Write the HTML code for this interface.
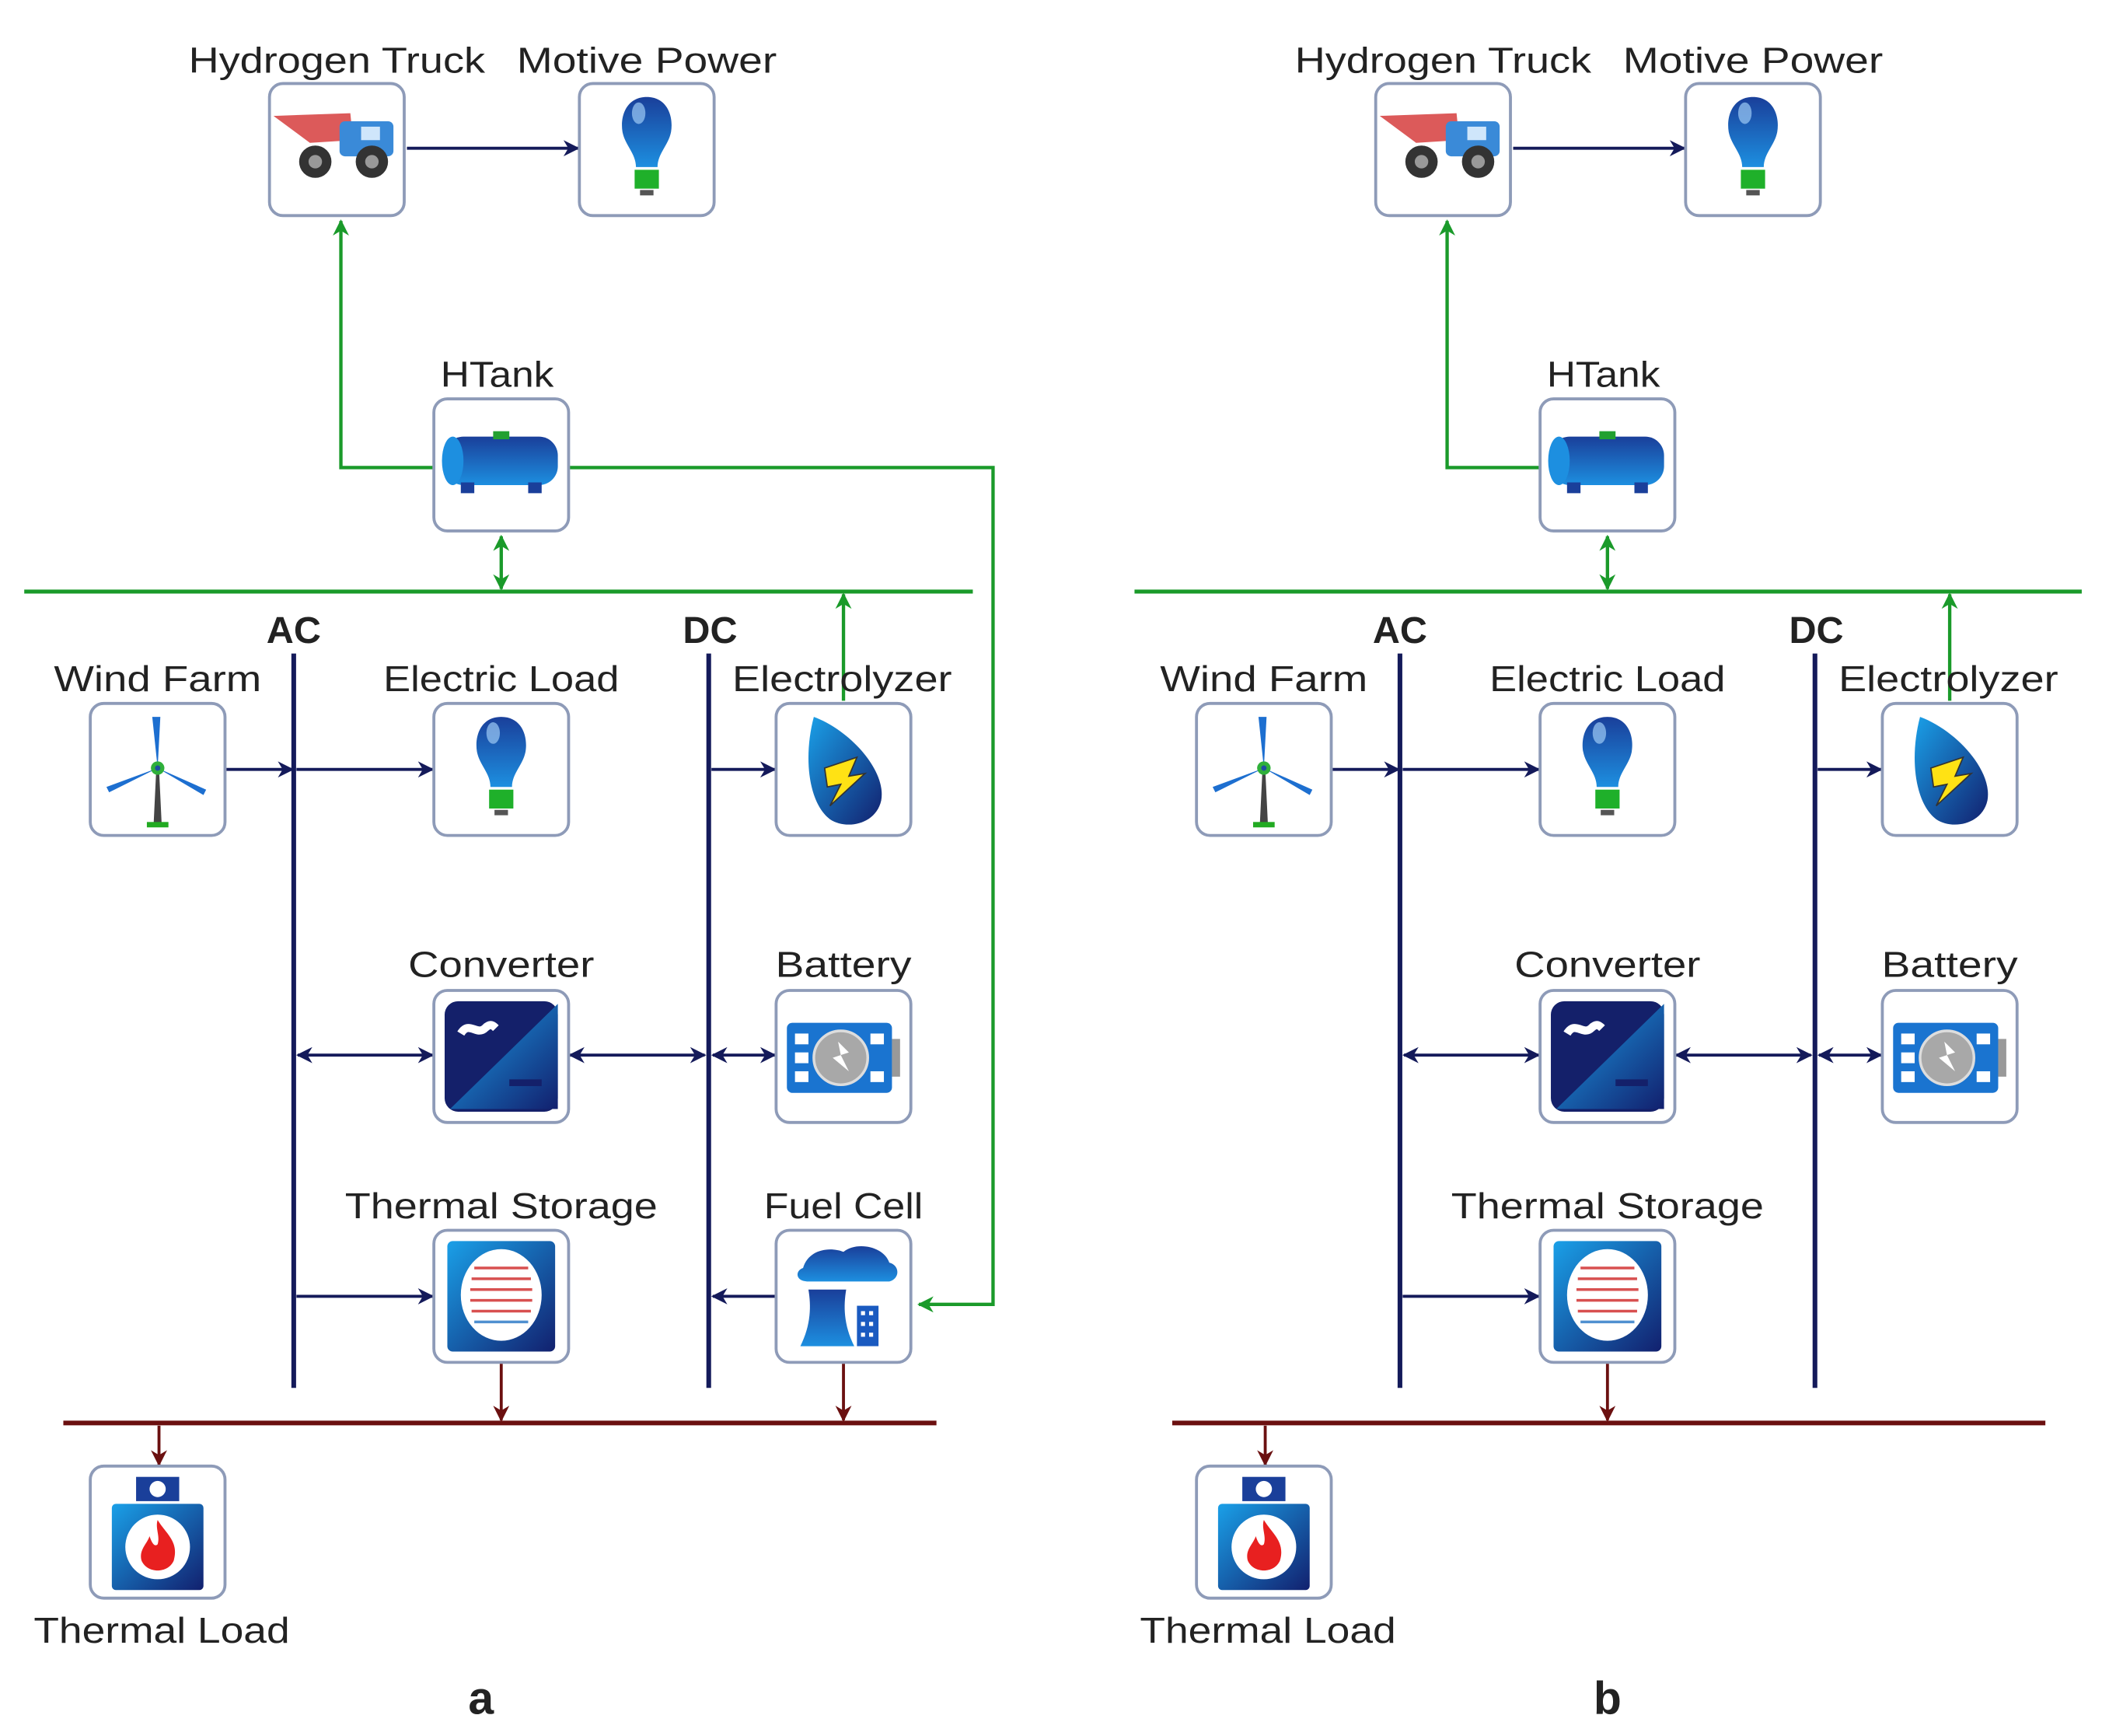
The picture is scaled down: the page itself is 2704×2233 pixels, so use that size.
<!DOCTYPE html>
<html><head><meta charset="utf-8"><style>html,body{margin:0;padding:0;background:#fff}svg{display:block}</style></head>
<body>
<svg width="2704" height="2233" viewBox="0 0 2704 2233" xmlns="http://www.w3.org/2000/svg">
<defs>
<linearGradient id="bl" x1="0" y1="0" x2="0" y2="1"><stop offset="0" stop-color="#1a3f9a"/><stop offset="1" stop-color="#1d8fe0"/></linearGradient>
<linearGradient id="bd" x1="0" y1="0" x2="1" y2="1"><stop offset="0" stop-color="#1aa0e8"/><stop offset="1" stop-color="#12206e"/></linearGradient>
<marker id="an" viewBox="0 0 10 10" refX="9" refY="5" markerWidth="12" markerHeight="12" orient="auto-start-reverse" markerUnits="userSpaceOnUse"><path d="M0,0 L10,5 L0,10 L3,5 z" fill="#141a5a"/></marker>
<marker id="ag" viewBox="0 0 10 10" refX="9" refY="5" markerWidth="12" markerHeight="12" orient="auto-start-reverse" markerUnits="userSpaceOnUse"><path d="M0,0 L10,5 L0,10 L3,5 z" fill="#1a9a2a"/></marker>
<marker id="ar" viewBox="0 0 10 10" refX="9" refY="5" markerWidth="12" markerHeight="12" orient="auto-start-reverse" markerUnits="userSpaceOnUse"><path d="M0,0 L10,5 L0,10 L3,5 z" fill="#6b1010"/></marker>

<g id="box"><rect x="0" y="0" width="100" height="98" rx="10" fill="#fff" stroke="#8e9bb8" stroke-width="2.2"/></g>
<g id="bulb"><path d="M50,10 C35,10 30,24 32,36 C34,46 42,52 42,62 L58,62 C58,52 66,46 68,36 C70,24 65,10 50,10z" fill="url(#bl)"/><ellipse cx="44" cy="22" rx="5" ry="8" fill="#9ccaf5" opacity="0.7"/><rect x="41" y="64" width="18" height="14" fill="#1fb02a"/><rect x="45" y="79" width="10" height="4" fill="#555"/></g>
<g id="truck"><polygon points="3,24 60,22 62,42 30,44" fill="#dc5a5a"/><rect x="52" y="28" width="40" height="26" rx="4" fill="#3a8ad8"/><rect x="68" y="32" width="14" height="10" fill="#cfe6fb"/><circle cx="34" cy="58" r="12" fill="#333"/><circle cx="34" cy="58" r="5" fill="#999"/><circle cx="76" cy="58" r="12" fill="#333"/><circle cx="76" cy="58" r="5" fill="#999"/></g>
<g id="tank"><rect x="8" y="28" width="84" height="36" rx="14" fill="url(#bl)"/><ellipse cx="14" cy="46" rx="8" ry="18" fill="#1d8fe0"/><rect x="44" y="24" width="12" height="6" fill="#22a030"/><rect x="20" y="62" width="10" height="8" fill="#1a3f9a"/><rect x="70" y="62" width="10" height="8" fill="#1a3f9a"/></g>
<g id="wind"><polygon points="47,90 53,90 51,48 49,48" fill="#444"/><rect x="42" y="88" width="16" height="4" fill="#2a2"/><path d="M50,48 L46,10 L52,10 z" fill="#1d6fd0"/><path d="M50,48 L14,66 L12,62 z" fill="#1d6fd0"/><path d="M50,48 L86,64 L84,68 z" fill="#1d6fd0"/><circle cx="50" cy="48" r="5" fill="#2fb03a"/><circle cx="50" cy="48" r="2" fill="#1d4fa0"/></g>
<g id="elec"><path d="M28,10 C55,20 82,50 78,72 C74,90 52,94 40,86 C24,74 20,40 28,10z" fill="url(#bd)"/><polygon points="36,48 60,40 54,54 66,52 40,76 48,60 38,62" fill="#ffe214" stroke="#333" stroke-width="1"/></g>
<g id="conv"><rect x="8" y="8" width="84" height="82" rx="10" fill="#14206a"/><polygon points="92,10 92,88 12,88" fill="url(#bd)"/><path d="M20,32 C26,22 32,34 38,28 C42,24 44,26 46,28" stroke="#fff" stroke-width="6" fill="none"/><rect x="56" y="66" width="24" height="5" fill="#14206a"/></g>
<g id="batt"><rect x="8" y="24" width="78" height="52" rx="4" fill="#1a74d0"/><rect x="86" y="36" width="6" height="28" fill="#999"/><rect x="14" y="32" width="10" height="8" fill="#fff"/><rect x="14" y="46" width="10" height="8" fill="#fff"/><rect x="14" y="60" width="10" height="8" fill="#fff"/><rect x="70" y="32" width="10" height="8" fill="#fff"/><rect x="70" y="60" width="10" height="8" fill="#fff"/><circle cx="48" cy="50" r="20" fill="#a8a8a8" stroke="#ddd" stroke-width="2"/><polygon points="46,38 54,46 48,48 54,60 42,50 48,48" fill="#fff"/></g>
<g id="ts"><rect x="10" y="8" width="80" height="82" rx="4" fill="url(#bd)"/><ellipse cx="50" cy="48" rx="30" ry="34" fill="#fff"/><g stroke="#d85050" stroke-width="2" fill="none"><line x1="30" y1="28" x2="70" y2="28"/><line x1="28" y1="36" x2="72" y2="36"/><line x1="27" y1="44" x2="73" y2="44"/><line x1="27" y1="52" x2="73" y2="52"/><line x1="28" y1="60" x2="72" y2="60"/></g><line x1="30" y1="68" x2="70" y2="68" stroke="#5090d0" stroke-width="2"/></g>
<g id="fc"><path d="M20,28 C24,14 40,12 50,16 C60,8 80,12 84,24 C92,26 92,36 84,38 L24,38 C14,38 14,30 20,28z" fill="url(#bl)"/><path d="M18,86 C26,70 26,56 24,44 L52,44 C50,56 50,70 58,86z" fill="url(#bl)"/><rect x="60" y="56" width="16" height="30" fill="#1a5ac0"/><g fill="#fff"><rect x="63" y="60" width="3" height="3"/><rect x="69" y="60" width="3" height="3"/><rect x="63" y="68" width="3" height="3"/><rect x="69" y="68" width="3" height="3"/><rect x="63" y="76" width="3" height="3"/><rect x="69" y="76" width="3" height="3"/></g></g>
<g id="tl"><rect x="34" y="8" width="32" height="18" fill="#1a3f9a"/><circle cx="50" cy="17" r="6" fill="#fff"/><rect x="16" y="28" width="68" height="64" rx="3" fill="url(#bd)"/><circle cx="50" cy="60" r="24" fill="#fff"/><path d="M50,40 C56,50 66,56 62,70 C58,80 42,80 38,70 C36,62 42,58 44,52 C46,58 48,60 50,58 C52,52 48,46 50,40z" fill="#e82020"/></g>
</defs>

<!-- Panel A -->
<g transform="scale(1.7333)" font-family="'Liberation Sans', 'DejaVu Sans', sans-serif">
 <g stroke-width="3" fill="none">
  <line x1="18" y1="439" x2="722" y2="439" stroke="#1a9a2a"/>
  <polyline points="322,347 253,347 253,164" stroke="#1a9a2a" stroke-width="2.5" marker-end="url(#ag)"/>
  <polyline points="422,347 737,347 737,968 682,968" stroke="#1a9a2a" stroke-width="2.5" marker-end="url(#ag)"/>
  <line x1="372" y1="398" x2="372" y2="437" stroke="#1a9a2a" stroke-width="2.5" marker-start="url(#ag)" marker-end="url(#ag)"/>
  <line x1="626" y1="520" x2="626" y2="441" stroke="#1a9a2a" stroke-width="2.5" marker-end="url(#ag)"/>
  <line x1="218" y1="485" x2="218" y2="1030" stroke="#141a5a" stroke-width="3.5"/>
  <line x1="526" y1="485" x2="526" y2="1030" stroke="#141a5a" stroke-width="3.5"/>
  <g stroke="#141a5a" stroke-width="2.2">
   <line x1="302" y1="110" x2="429" y2="110" marker-end="url(#an)"/>
   <line x1="168" y1="571" x2="217" y2="571" marker-end="url(#an)"/>
   <line x1="220" y1="571" x2="321" y2="571" marker-end="url(#an)"/>
   <line x1="528" y1="571" x2="575" y2="571" marker-end="url(#an)"/>
   <line x1="221" y1="783" x2="321" y2="783" marker-start="url(#an)" marker-end="url(#an)"/>
   <line x1="423" y1="783" x2="523" y2="783" marker-start="url(#an)" marker-end="url(#an)"/>
   <line x1="529" y1="783" x2="575" y2="783" marker-start="url(#an)" marker-end="url(#an)"/>
   <line x1="220" y1="962" x2="321" y2="962" marker-end="url(#an)"/>
   <line x1="576" y1="962" x2="529" y2="962" marker-end="url(#an)"/>
  </g>
  <line x1="47" y1="1056" x2="695" y2="1056" stroke="#6b1010" stroke-width="3.5"/>
  <g stroke="#6b1010" stroke-width="2.2">
   <line x1="372" y1="1012" x2="372" y2="1054" marker-end="url(#ar)"/>
   <line x1="626" y1="1012" x2="626" y2="1054" marker-end="url(#ar)"/>
   <line x1="118" y1="1058" x2="118" y2="1087" marker-end="url(#ar)"/>
  </g>
 </g>
 <g transform="translate(200,62)"><use href="#box"/><use href="#truck"/></g>
 <g transform="translate(430,62)"><use href="#box"/><use href="#bulb"/></g>
 <g transform="translate(322,296)"><use href="#box"/><use href="#tank"/></g>
 <g transform="translate(67,522)"><use href="#box"/><use href="#wind"/></g>
 <g transform="translate(322,522)"><use href="#box"/><use href="#bulb"/></g>
 <g transform="translate(576,522)"><use href="#box"/><use href="#elec"/></g>
 <g transform="translate(322,735)"><use href="#box"/><use href="#conv"/></g>
 <g transform="translate(576,735)"><use href="#box"/><use href="#batt"/></g>
 <g transform="translate(322,913)"><use href="#box"/><use href="#ts"/></g>
 <g transform="translate(576,913)"><use href="#box"/><use href="#fc"/></g>
 <g transform="translate(67,1088)"><use href="#box"/><use href="#tl"/></g>
 <g font-size="27" fill="#222" text-anchor="middle">
  <text x="250" y="54" textLength="220" lengthAdjust="spacingAndGlyphs">Hydrogen Truck</text>
  <text x="480" y="54" textLength="193" lengthAdjust="spacingAndGlyphs">Motive Power</text>
  <text x="369" y="287" textLength="84" lengthAdjust="spacingAndGlyphs">HTank</text>
  <text x="117" y="513" textLength="154" lengthAdjust="spacingAndGlyphs">Wind Farm</text>
  <text x="372" y="513" textLength="175" lengthAdjust="spacingAndGlyphs">Electric Load</text>
  <text x="625" y="513" textLength="163" lengthAdjust="spacingAndGlyphs">Electrolyzer</text>
  <text x="372" y="725" textLength="138" lengthAdjust="spacingAndGlyphs">Converter</text>
  <text x="626" y="725" textLength="101" lengthAdjust="spacingAndGlyphs">Battery</text>
  <text x="372" y="904" textLength="232" lengthAdjust="spacingAndGlyphs">Thermal Storage</text>
  <text x="626" y="904" textLength="118" lengthAdjust="spacingAndGlyphs">Fuel Cell</text>
  <text x="120" y="1219" textLength="190" lengthAdjust="spacingAndGlyphs">Thermal Load</text>
  <text x="218" y="477" font-weight="bold" font-size="28">AC</text>
  <text x="527" y="477" font-weight="bold" font-size="28">DC</text>
  <text x="357" y="1272" font-weight="bold" font-size="34">a</text>
 </g>
</g>

<!-- Panel B -->
<g transform="scale(1.7333) translate(821,0)" font-family="'Liberation Sans', 'DejaVu Sans', sans-serif">
 <g stroke-width="3" fill="none">
  <line x1="21" y1="439" x2="724" y2="439" stroke="#1a9a2a"/>
  <polyline points="322,347 253,347 253,164" stroke="#1a9a2a" stroke-width="2.5" marker-end="url(#ag)"/>
  <line x1="372" y1="398" x2="372" y2="437" stroke="#1a9a2a" stroke-width="2.5" marker-start="url(#ag)" marker-end="url(#ag)"/>
  <line x1="626" y1="520" x2="626" y2="441" stroke="#1a9a2a" stroke-width="2.5" marker-end="url(#ag)"/>
  <line x1="218" y1="485" x2="218" y2="1030" stroke="#141a5a" stroke-width="3.5"/>
  <line x1="526" y1="485" x2="526" y2="1030" stroke="#141a5a" stroke-width="3.5"/>
  <g stroke="#141a5a" stroke-width="2.2">
   <line x1="302" y1="110" x2="429" y2="110" marker-end="url(#an)"/>
   <line x1="168" y1="571" x2="217" y2="571" marker-end="url(#an)"/>
   <line x1="220" y1="571" x2="321" y2="571" marker-end="url(#an)"/>
   <line x1="528" y1="571" x2="575" y2="571" marker-end="url(#an)"/>
   <line x1="221" y1="783" x2="321" y2="783" marker-start="url(#an)" marker-end="url(#an)"/>
   <line x1="423" y1="783" x2="523" y2="783" marker-start="url(#an)" marker-end="url(#an)"/>
   <line x1="529" y1="783" x2="575" y2="783" marker-start="url(#an)" marker-end="url(#an)"/>
   <line x1="220" y1="962" x2="321" y2="962" marker-end="url(#an)"/>
  </g>
  <line x1="49" y1="1056" x2="697" y2="1056" stroke="#6b1010" stroke-width="3.5"/>
  <g stroke="#6b1010" stroke-width="2.2">
   <line x1="372" y1="1012" x2="372" y2="1054" marker-end="url(#ar)"/>
   <line x1="118" y1="1058" x2="118" y2="1087" marker-end="url(#ar)"/>
  </g>
 </g>
 <g transform="translate(200,62)"><use href="#box"/><use href="#truck"/></g>
 <g transform="translate(430,62)"><use href="#box"/><use href="#bulb"/></g>
 <g transform="translate(322,296)"><use href="#box"/><use href="#tank"/></g>
 <g transform="translate(67,522)"><use href="#box"/><use href="#wind"/></g>
 <g transform="translate(322,522)"><use href="#box"/><use href="#bulb"/></g>
 <g transform="translate(576,522)"><use href="#box"/><use href="#elec"/></g>
 <g transform="translate(322,735)"><use href="#box"/><use href="#conv"/></g>
 <g transform="translate(576,735)"><use href="#box"/><use href="#batt"/></g>
 <g transform="translate(322,913)"><use href="#box"/><use href="#ts"/></g>
 <g transform="translate(67,1088)"><use href="#box"/><use href="#tl"/></g>
 <g font-size="27" fill="#222" text-anchor="middle">
  <text x="250" y="54" textLength="220" lengthAdjust="spacingAndGlyphs">Hydrogen Truck</text>
  <text x="480" y="54" textLength="193" lengthAdjust="spacingAndGlyphs">Motive Power</text>
  <text x="369" y="287" textLength="84" lengthAdjust="spacingAndGlyphs">HTank</text>
  <text x="117" y="513" textLength="154" lengthAdjust="spacingAndGlyphs">Wind Farm</text>
  <text x="372" y="513" textLength="175" lengthAdjust="spacingAndGlyphs">Electric Load</text>
  <text x="625" y="513" textLength="163" lengthAdjust="spacingAndGlyphs">Electrolyzer</text>
  <text x="372" y="725" textLength="138" lengthAdjust="spacingAndGlyphs">Converter</text>
  <text x="626" y="725" textLength="101" lengthAdjust="spacingAndGlyphs">Battery</text>
  <text x="372" y="904" textLength="232" lengthAdjust="spacingAndGlyphs">Thermal Storage</text>
  <text x="120" y="1219" textLength="190" lengthAdjust="spacingAndGlyphs">Thermal Load</text>
  <text x="218" y="477" font-weight="bold" font-size="28">AC</text>
  <text x="527" y="477" font-weight="bold" font-size="28">DC</text>
  <text x="372" y="1272" font-weight="bold" font-size="34">b</text>
 </g>
</g>
</svg>
</body></html>
